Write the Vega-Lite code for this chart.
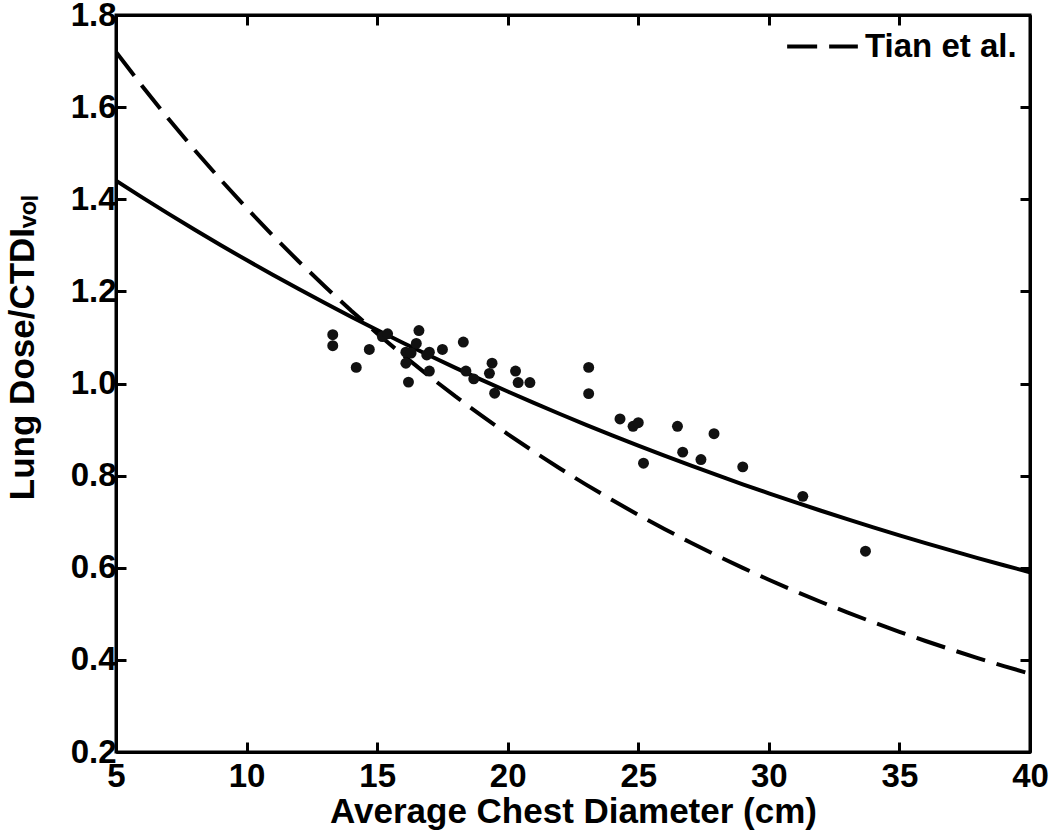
{
  "$schema": "https://vega.github.io/schema/vega-lite/v6.json",
  "width": 914,
  "height": 737,
  "autosize": {"type": "none"},
  "padding": {"left": 116, "top": 15, "right": 20, "bottom": 85},
  "background": "white",
  "config": {
    "view": {"stroke": "black", "strokeWidth": 3},
    "font": "Liberation Sans",
    "axis": {
      "grid": false,
      "domainColor": "black",
      "domainWidth": 3,
      "tickColor": "black",
      "tickWidth": 3,
      "tickSize": -10,
      "labelFont": "Liberation Sans",
      "labelFontSize": 33,
      "labelFontWeight": "bold",
      "labelColor": "black",
      "labelFlush": false,
      "labelOverlap": false,
      "titleFont": "Liberation Sans",
      "titleFontSize": 35,
      "titleFontWeight": "bold",
      "titleColor": "black"
    }
  },
  "datasets": {
    "fit": [
      {"d": 5, "v": 1.4403}, {"d": 6, "v": 1.404}, {"d": 7, "v": 1.3687}, {"d": 8, "v": 1.3342},
      {"d": 9, "v": 1.3006}, {"d": 10, "v": 1.2679}, {"d": 11, "v": 1.236}, {"d": 12, "v": 1.2049},
      {"d": 13, "v": 1.1746}, {"d": 14, "v": 1.145}, {"d": 15, "v": 1.1162}, {"d": 16, "v": 1.0881},
      {"d": 17, "v": 1.0607}, {"d": 18, "v": 1.034}, {"d": 19, "v": 1.008}, {"d": 20, "v": 0.9826},
      {"d": 21, "v": 0.9579}, {"d": 22, "v": 0.9338}, {"d": 23, "v": 0.9103}, {"d": 24, "v": 0.8874},
      {"d": 25, "v": 0.8651}, {"d": 26, "v": 0.8433}, {"d": 27, "v": 0.8221}, {"d": 28, "v": 0.8014},
      {"d": 29, "v": 0.7812}, {"d": 30, "v": 0.7615}, {"d": 31, "v": 0.7424}, {"d": 32, "v": 0.7237},
      {"d": 33, "v": 0.7055}, {"d": 34, "v": 0.6877}, {"d": 35, "v": 0.6704}, {"d": 36, "v": 0.6535},
      {"d": 37, "v": 0.6371}, {"d": 38, "v": 0.621}, {"d": 39, "v": 0.6054}, {"d": 40, "v": 0.5902}
    ],
    "tian": [
      {"d": 5, "v": 1.7199, "series": "Tian et al."}, {"d": 6, "v": 1.646, "series": "Tian et al."},
      {"d": 7, "v": 1.5753, "series": "Tian et al."}, {"d": 8, "v": 1.5076, "series": "Tian et al."},
      {"d": 9, "v": 1.4429, "series": "Tian et al."}, {"d": 10, "v": 1.3809, "series": "Tian et al."},
      {"d": 11, "v": 1.3216, "series": "Tian et al."}, {"d": 12, "v": 1.2648, "series": "Tian et al."},
      {"d": 13, "v": 1.2105, "series": "Tian et al."}, {"d": 14, "v": 1.1585, "series": "Tian et al."},
      {"d": 15, "v": 1.1088, "series": "Tian et al."}, {"d": 16, "v": 1.0611, "series": "Tian et al."},
      {"d": 17, "v": 1.0156, "series": "Tian et al."}, {"d": 18, "v": 0.9719, "series": "Tian et al."},
      {"d": 19, "v": 0.9302, "series": "Tian et al."}, {"d": 20, "v": 0.8902, "series": "Tian et al."},
      {"d": 21, "v": 0.852, "series": "Tian et al."}, {"d": 22, "v": 0.8154, "series": "Tian et al."},
      {"d": 23, "v": 0.7804, "series": "Tian et al."}, {"d": 24, "v": 0.7469, "series": "Tian et al."},
      {"d": 25, "v": 0.7148, "series": "Tian et al."}, {"d": 26, "v": 0.6841, "series": "Tian et al."},
      {"d": 27, "v": 0.6547, "series": "Tian et al."}, {"d": 28, "v": 0.6266, "series": "Tian et al."},
      {"d": 29, "v": 0.5997, "series": "Tian et al."}, {"d": 30, "v": 0.5739, "series": "Tian et al."},
      {"d": 31, "v": 0.5493, "series": "Tian et al."}, {"d": 32, "v": 0.5257, "series": "Tian et al."},
      {"d": 33, "v": 0.5031, "series": "Tian et al."}, {"d": 34, "v": 0.4815, "series": "Tian et al."},
      {"d": 35, "v": 0.4608, "series": "Tian et al."}, {"d": 36, "v": 0.441, "series": "Tian et al."},
      {"d": 37, "v": 0.4221, "series": "Tian et al."}, {"d": 38, "v": 0.4039, "series": "Tian et al."},
      {"d": 39, "v": 0.3866, "series": "Tian et al."}, {"d": 40, "v": 0.37, "series": "Tian et al."}
    ],
    "pts": [
      {"d": 13.3, "v": 1.106}, {"d": 13.3, "v": 1.082}, {"d": 14.2, "v": 1.035}, {"d": 14.7, "v": 1.074},
      {"d": 15.2, "v": 1.102}, {"d": 15.4, "v": 1.108}, {"d": 16.1, "v": 1.044}, {"d": 16.2, "v": 1.003},
      {"d": 16.1, "v": 1.068}, {"d": 16.3, "v": 1.066}, {"d": 16.5, "v": 1.087}, {"d": 16.6, "v": 1.115},
      {"d": 16.9, "v": 1.062}, {"d": 17.0, "v": 1.068}, {"d": 17.0, "v": 1.027}, {"d": 17.5, "v": 1.074},
      {"d": 18.3, "v": 1.09}, {"d": 18.4, "v": 1.027}, {"d": 18.7, "v": 1.01}, {"d": 19.3, "v": 1.022},
      {"d": 19.4, "v": 1.044}, {"d": 19.5, "v": 0.979}, {"d": 20.3, "v": 1.027}, {"d": 20.4, "v": 1.002},
      {"d": 20.85, "v": 1.002}, {"d": 23.1, "v": 1.035}, {"d": 23.1, "v": 0.978}, {"d": 24.3, "v": 0.923},
      {"d": 24.8, "v": 0.907}, {"d": 25.0, "v": 0.915}, {"d": 25.2, "v": 0.827}, {"d": 26.5, "v": 0.907},
      {"d": 26.7, "v": 0.851}, {"d": 27.4, "v": 0.835}, {"d": 27.9, "v": 0.891}, {"d": 29.0, "v": 0.819},
      {"d": 31.3, "v": 0.755}, {"d": 33.7, "v": 0.636}
    ]
  },
  "layer": [
    {
      "data": {"name": "fit"},
      "mark": {"type": "line", "color": "black", "strokeWidth": 4, "clip": true},
      "encoding": {
        "x": {"field": "d", "type": "quantitative", "scale": {"domain": [5, 40], "nice": false, "zero": false},
              "axis": {"orient": "bottom", "values": [5, 10, 15, 20, 25, 30, 35, 40], "title": "Average Chest Diameter (cm)", "labelPadding": 18, "titlePadding": 1}},
        "y": {"field": "v", "type": "quantitative", "scale": {"domain": [0.2, 1.8], "nice": false, "zero": false},
              "axis": {"orient": "left", "values": [0.2, 0.4, 0.6, 0.8, 1.0, 1.2, 1.4, 1.6, 1.8], "format": ".1f", "title": "Lung Dose/CTDIᵥₒₗ", "labelPadding": 10, "titleX": -76, "titleY": 332}}
      }
    },
    {
      "data": {"name": "tian"},
      "mark": {"type": "line", "color": "black", "strokeWidth": 4, "strokeCap": "butt", "clip": true},
      "encoding": {
        "x": {"field": "d", "type": "quantitative", "scale": {"domain": [5, 40], "nice": false, "zero": false},
              "axis": {"orient": "top", "values": [5, 10, 15, 20, 25, 30, 35, 40], "labels": false, "title": null}},
        "y": {"field": "v", "type": "quantitative", "scale": {"domain": [0.2, 1.8], "nice": false, "zero": false},
              "axis": {"orient": "right", "values": [0.2, 0.4, 0.6, 0.8, 1.0, 1.2, 1.4, 1.6, 1.8], "labels": false, "title": null}},
        "strokeDash": {"field": "series", "type": "nominal", "scale": {"range": [[30, 12]]},
          "legend": {"orient": "none", "legendX": 669, "legendY": -6, "title": null, "padding": 0,
            "labelFont": "Liberation Sans", "labelFontSize": 33, "labelFontWeight": "bold", "labelColor": "black",
            "symbolType": "stroke", "symbolSize": 5000, "symbolStrokeWidth": 4, "symbolStrokeColor": "black", "labelOffset": 5}}
      }
    },
    {
      "data": {"name": "pts"},
      "mark": {"type": "circle", "color": "#111111", "opacity": 1, "size": 120},
      "encoding": {
        "x": {"field": "d", "type": "quantitative", "scale": {"domain": [5, 40], "nice": false, "zero": false}, "axis": null},
        "y": {"field": "v", "type": "quantitative", "scale": {"domain": [0.2, 1.8], "nice": false, "zero": false}, "axis": null}
      }
    }
  ],
  "resolve": {"axis": {"x": "independent", "y": "independent"}}
}
